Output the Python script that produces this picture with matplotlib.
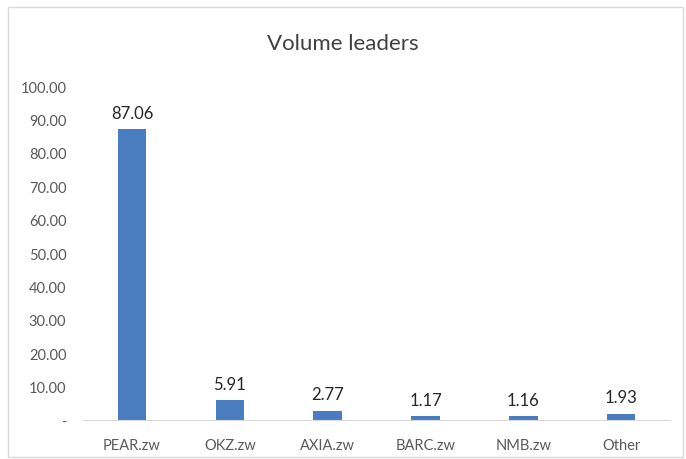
import matplotlib
matplotlib.use("Agg")
import matplotlib.pyplot as plt
from matplotlib.patches import Rectangle

plt.rcParams['font.family'] = ['Lato', 'DejaVu Sans']

# data
tickers = ['PEAR.zw', 'OKZ.zw', 'AXIA.zw', 'BARC.zw', 'NMB.zw', 'Other']
volume = [87.06, 5.91, 2.77, 1.17, 1.16, 1.93]
yticks = [0, 10, 20, 30, 40, 50, 60, 70, 80, 90, 100]
ytick_labels = ['-'] + ['%.2f' % v for v in yticks[1:]]

fig = plt.figure(figsize=(6.86, 4.6), dpi=100)
ax = fig.add_axes([0.121, 0.0848, 0.856, 0.726])

# light frame around the whole chart like the Excel chart area
fig.patches.append(Rectangle((0.011, 0.005), 0.985, 0.978, transform=fig.transFigure,
                             fill=False, edgecolor='#D9D9D9', linewidth=1))

x = range(len(tickers))
ax.bar(x, volume, width=0.29, color='#4A7CC0')

for xi, v in zip(x, volume):
    ax.text(xi, v + 2.5, '%.2f' % v, ha='center', va='bottom', fontsize=12, color='#262626')

ax.set_xlim(-0.5, len(tickers) - 0.5)
ax.set_ylim(0, 100)
ax.set_yticks(yticks)
ax.set_yticklabels(ytick_labels)
ax.set_xticks(list(x))
ax.set_xticklabels(tickers)

for s in ['top', 'right', 'left']:
    ax.spines[s].set_visible(False)
ax.spines['bottom'].set_color('#D9D9D9')
ax.tick_params(axis='both', length=0, labelsize=10.5, colors='#595959')
ax.tick_params(axis='x', pad=13)
ax.tick_params(axis='y', pad=12)

fig.text(0.5, 0.905, 'Volume leaders', ha='center', va='center', fontsize=16, color='#404040')

fig.savefig('out.png', dpi=100)
